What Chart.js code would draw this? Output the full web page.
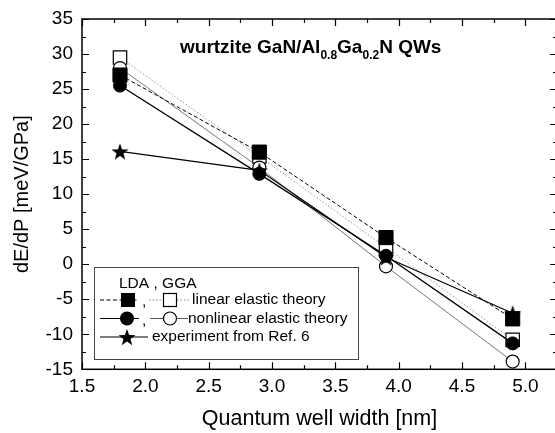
<!DOCTYPE html>
<html><head><meta charset="utf-8">
<script src="https://cdn.jsdelivr.net/npm/chart.js@4/dist/chart.umd.min.js"></script>
<style>
html,body{margin:0;padding:0;background:#fff;overflow:hidden;width:555px;height:433px;}
#wrap{position:relative;width:568px;height:433px;}
canvas{position:absolute;left:0;top:0;}
#title{position:absolute;left:180px;top:37px;font:bold 19px "Liberation Sans",Arial,sans-serif;line-height:19px;white-space:nowrap;color:#000;}
#title sub{font-size:12px;vertical-align:baseline;position:relative;top:6px;}
</style></head><body>
<div id="wrap"><canvas id="c" width="568" height="433" style="width:568px;height:433px"></canvas>
<div id="title">wurtzite GaN/Al<sub>0.8</sub>Ga<sub>0.2</sub>N QWs</div></div>
<script>
// ---- data ----
const wellWidths = [1.8, 2.9, 3.9, 4.9];
const ldaLinear = [27.0, 16.0, 3.8, -7.8];       // filled squares
const ggaLinear = [29.5, 15.4, 2.4, -10.8];      // open squares
const ldaNonlinear = [25.5, 12.9, 1.2, -11.3];   // filled circles
const ggaNonlinear = [28.0, 13.8, -0.3, -13.9];  // open circles
const experiment = [16.1, 13.4, 1.0, -7.0];      // stars
const xTickValues = [1.5, 2.0, 2.5, 3.0, 3.5, 4.0, 4.5, 5.0];
const xTickLabels = ['1.5','2.0','2.5','3.0','3.5','4.0','4.5','5.0'];
const yTickLabels = ['-15','-10','-5','0','5','10','15','20','25','30','35'];
const legendTexts = ['LDA , GGA', 'linear elastic theory', 'nonlinear elastic theory', 'experiment from Ref. 6'];

const FONT = '"Liberation Sans", Arial, sans-serif';

function makeStar(R){
  const c = document.createElement('canvas');
  const s = Math.ceil(R*2+4);
  c.width = s; c.height = s;
  const g = c.getContext('2d');
  drawStar(g, s/2, s/2 + R*0.1, R);
  return c;
}
function drawStar(g, cx, cy, R){
  const r = R*0.4;
  g.beginPath();
  for(let i=0;i<10;i++){
    const a = -Math.PI/2 + i*Math.PI/5;
    const rr = i%2===0 ? R : r;
    const x = cx + rr*Math.cos(a), y = cy + rr*Math.sin(a);
    if(i===0) g.moveTo(x,y); else g.lineTo(x,y);
  }
  g.closePath();
  g.fillStyle = '#000';
  g.fill();
}
const starImg = makeStar(9);

function pts(arr){ return wellWidths.map((x,i)=>({x:x,y:arr[i]})); }

const frameTicks = {
  id:'frameTicks',
  afterDatasetsDraw(chart){
    const ctx = chart.ctx;
    const xs = chart.scales.x, ys = chart.scales.y;
    const L0 = xs.getPixelForValue(1.5), R0 = xs.getPixelForValue(5.25);
    const T0 = ys.getPixelForValue(35), B0 = ys.getPixelForValue(-15);
    ctx.save();
    ctx.strokeStyle = '#000';
    ctx.lineWidth = 1.2;
    ctx.beginPath();
    for(let k=0;k<=15;k++){
      const v = 1.5 + k*0.25;
      const px = Math.round(xs.getPixelForValue(v))+0.5;
      const L = k%2===0 ? 7 : 4;
      ctx.moveTo(px, B0); ctx.lineTo(px, B0-L);
      ctx.moveTo(px, T0); ctx.lineTo(px, T0+L);
    }
    for(let k=0;k<=20;k++){
      const v = -15 + k*2.5;
      const py = Math.round(ys.getPixelForValue(v))+0.5;
      const L = k%2===0 ? 7 : 4;
      ctx.moveTo(L0, py); ctx.lineTo(L0+L, py);
      ctx.moveTo(R0, py); ctx.lineTo(R0-L, py);
    }
    ctx.stroke();
    ctx.lineWidth = 1.5;
    ctx.strokeRect(L0, T0, R0-L0, B0-T0);
    ctx.restore();
  },
  afterDraw(chart){
    const ctx = chart.ctx;
    const xs = chart.scales.x, ys = chart.scales.y;
    ctx.save();
    const bx = 94, by = 267, bw = 264, bh = 92;
    ctx.fillStyle = '#fff';
    ctx.fillRect(bx, by, bw, bh);
    ctx.strokeStyle = '#444';
    ctx.lineWidth = 1;
    ctx.strokeRect(bx+0.5, by+0.5, bw, bh);
    ctx.fillStyle = '#000';
    ctx.font = '15.5px ' + FONT;
    ctx.textBaseline = 'middle';
    ctx.fillText(legendTexts[0], 119, 284);
    const r2 = 300, r3 = 318.5, r4 = 337;
    ctx.strokeStyle = '#000'; ctx.lineWidth = 1; ctx.setLineDash([4,2.5]);
    ctx.beginPath(); ctx.moveTo(100, r2); ctx.lineTo(139, r2); ctx.stroke();
    ctx.strokeStyle = '#888'; ctx.setLineDash([1.5,2]);
    ctx.beginPath(); ctx.moveTo(149, r2); ctx.lineTo(190, r2); ctx.stroke();
    ctx.setLineDash([]);
    ctx.fillStyle = '#000'; ctx.fillRect(121, r2-7, 14, 14);
    ctx.fillStyle = '#fff'; ctx.fillRect(163, r2-7, 14, 14);
    ctx.strokeStyle = '#000'; ctx.lineWidth = 1.2; ctx.strokeRect(163.5, r2-6.5, 13, 13);
    ctx.fillStyle = '#000';
    ctx.fillText(',', 142, r2+2);
    ctx.fillText(legendTexts[1], 192, r2);
    ctx.strokeStyle = '#000'; ctx.lineWidth = 1.2;
    ctx.beginPath(); ctx.moveTo(100, r3); ctx.lineTo(139, r3); ctx.stroke();
    ctx.strokeStyle = '#555'; ctx.lineWidth = 1;
    ctx.beginPath(); ctx.moveTo(150, r3); ctx.lineTo(188, r3); ctx.stroke();
    ctx.fillStyle = '#000';
    ctx.beginPath(); ctx.arc(127, r3, 7, 0, Math.PI*2); ctx.fill();
    ctx.fillStyle = '#fff';
    ctx.beginPath(); ctx.arc(170, r3, 6.5, 0, Math.PI*2); ctx.fill();
    ctx.strokeStyle = '#000'; ctx.lineWidth = 1.2; ctx.stroke();
    ctx.fillStyle = '#000';
    ctx.fillText(',', 142, r3+2);
    ctx.fillText(legendTexts[2], 188, r3);
    ctx.strokeStyle = '#000'; ctx.lineWidth = 1.2;
    ctx.beginPath(); ctx.moveTo(100, r4); ctx.lineTo(148, r4); ctx.stroke();
    drawStar(ctx, 127, r4+1, 9);
    ctx.fillStyle = '#000';
    ctx.fillText(legendTexts[3], 152, r4);
    // x tick labels, placed through the x scale
    ctx.globalAlpha = 1;
    ctx.fillStyle = '#000';
    ctx.font = '19px ' + FONT;
    ctx.textAlign = 'center';
    ctx.textBaseline = 'middle';
    const B0 = ys.getPixelForValue(-15);
    xTickValues.forEach((v,i)=>{ ctx.fillText(xTickLabels[i], xs.getPixelForValue(v), B0 + 17); });
    ctx.restore();
  }
};

new Chart(document.getElementById('c'), {
  type:'line',
  data:{
    datasets:[
      {label:'LDA nonlinear', data:pts(ldaNonlinear), borderColor:'#000', borderWidth:1.3,
       pointStyle:'circle', pointRadius:6.5, pointBackgroundColor:'#000', pointBorderColor:'#000', pointBorderWidth:1},
      {label:'experiment', data:pts(experiment), borderColor:'#000', borderWidth:1.2,
       pointStyle:starImg, pointRadius:9},
      {label:'LDA linear', data:pts(ldaLinear), borderColor:'#000', borderWidth:1, borderDash:[4,2.5],
       pointStyle:'rect', pointRadius:10, pointBackgroundColor:'#000', pointBorderColor:'#000', pointBorderWidth:1},
      {label:'GGA nonlinear', data:pts(ggaNonlinear), borderColor:'#666', borderWidth:0.9,
       pointStyle:'circle', pointRadius:6.5, pointBackgroundColor:'#fff', pointBorderColor:'#000', pointBorderWidth:1.2},
      {label:'GGA linear', data:pts(ggaLinear), borderColor:'#999', borderWidth:1, borderDash:[1.5,2],
       pointStyle:'rect', pointRadius:9.5, pointBackgroundColor:'#fff', pointBorderColor:'#000', pointBorderWidth:1.2}
    ]
  },
  options:{
    responsive:false, animation:false, devicePixelRatio:1,
    layout:{padding:{top:19, right:3, left:0, bottom:0}},
    plugins:{legend:{display:false}, tooltip:{enabled:false}, title:{display:false}},
    elements:{line:{tension:0, fill:false}},
    scales:{
      x:{type:'linear', min:1.5, max:5.25,
         afterFit(s){ s.height = 63.7; s.paddingRight = 0; s.paddingLeft = 0; },
         grid:{display:false, drawTicks:false}, border:{display:false},
         ticks:{display:false, stepSize:0.5},
         title:{display:true, text:'Quantum well width [nm]', color:'#000', font:{family:FONT, size:21.5}, padding:{top:0,bottom:1}}},
      y:{type:'linear', min:-15, max:35,
         afterFit(s){ s.width = 82; s.paddingTop = 0; s.paddingBottom = 0; },
         grid:{display:false, drawTicks:false}, border:{display:false},
         ticks:{stepSize:5, padding:9, color:'#000', font:{family:FONT, size:19},
           callback(v){ const i = Math.round((v+15)/5); return yTickLabels[i] !== undefined ? yTickLabels[i] : ''; }},
         title:{display:true, text:'dE/dP [meV/GPa]', color:'#000', font:{family:FONT, size:20}, padding:{top:10,bottom:0}}}
    }
  },
  plugins:[frameTicks]
});
</script>
</body></html>
